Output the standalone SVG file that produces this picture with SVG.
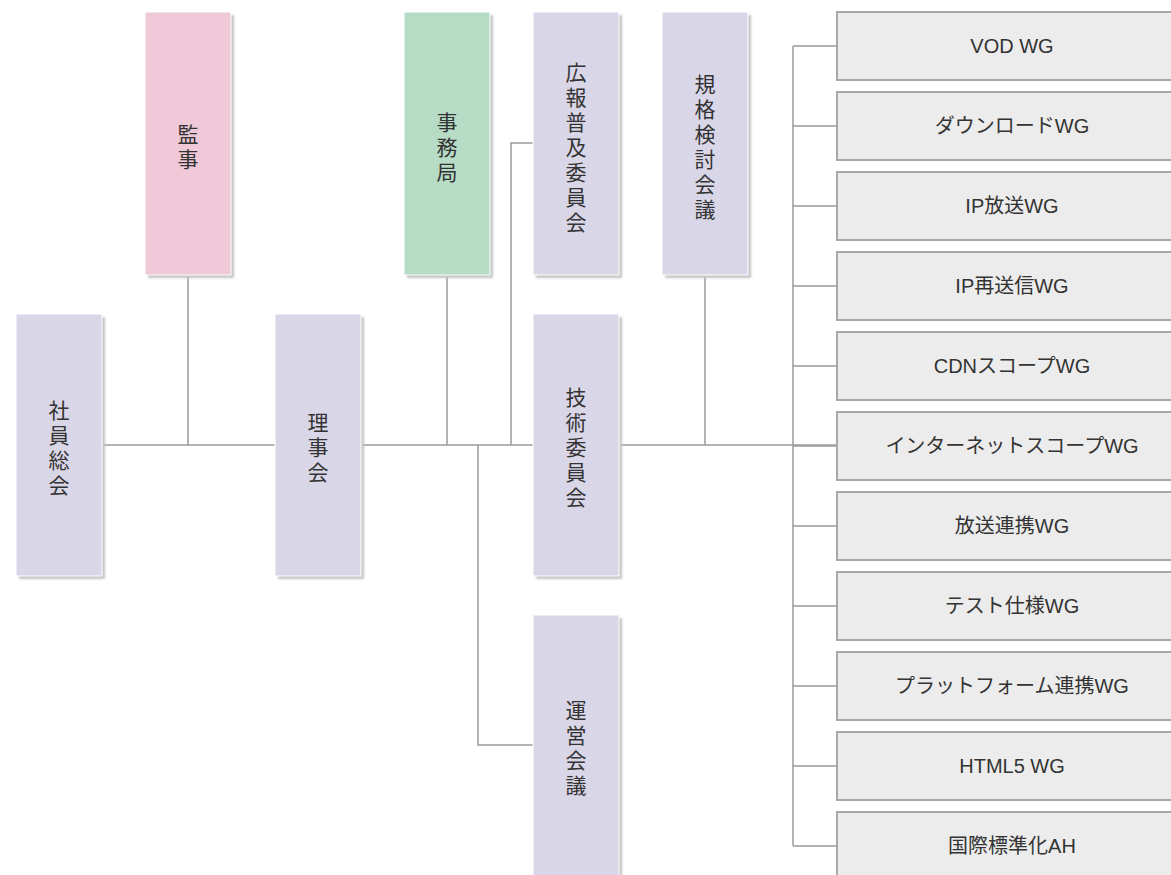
<svg xmlns="http://www.w3.org/2000/svg" width="1171" height="875" viewBox="0 0 1171 875">
<style>
.lv{fill:#d9d6e7;stroke:#fff;stroke-width:1}
.pk{fill:#efc9d7;stroke:#fff;stroke-width:1}
.gr{fill:#b6dcc6;stroke:#fff;stroke-width:1}
.sh{fill:#c4c4c4;filter:url(#bl)}
.wg{fill:#ececec;stroke:#a8a8a8;stroke-width:2}
.vt{font-family:"Noto Sans CJK JP","Liberation Sans",sans-serif;font-size:21px;fill:#333;text-anchor:middle;writing-mode:vertical-rl;letter-spacing:4px}
.ht{font-family:"Liberation Sans","Noto Sans CJK JP",sans-serif;font-size:20px;fill:#333;text-anchor:middle}
.cn{fill:none;stroke:#9a9a9a;stroke-width:1.5}
</style>
<defs>
<filter id="bl" x="-10%" y="-10%" width="120%" height="120%"><feGaussianBlur stdDeviation="1"/></filter>
</defs>
<rect width="1171" height="875" fill="#fff"/>
<g id="connectors" class="cn">
<path d="M102 445H836"/>
<path d="M188 275V445"/>
<path d="M447 275V445"/>
<path d="M533 143H511V445"/>
<path d="M478 445V745H533"/>
<path d="M705 275V445"/>
<path d="M793 46V846"/>
<path d="M793 46H836M793 126H836M793 206H836M793 286H836M793 366H836M793 446H836M793 526H836M793 606H836M793 686H836M793 766H836M793 846H836"/>
</g>
<g id="n-shain">
<rect class="sh" x="19" y="317" width="86" height="262"/>
<rect class="lv" x="16" y="314" width="86" height="262"/>
<text class="vt" x="59" y="450">社員総会</text>
</g>
<g id="n-kanji">
<rect class="sh" x="148" y="15" width="86" height="263"/>
<rect class="pk" x="145" y="12" width="86" height="263"/>
<text class="vt" x="188" y="149">監事</text>
</g>
<g id="n-rijikai">
<rect class="sh" x="278" y="317" width="86" height="262"/>
<rect class="lv" x="275" y="314" width="86" height="262"/>
<text class="vt" x="318" y="449">理事会</text>
</g>
<g id="n-jimukyoku">
<rect class="sh" x="407" y="15" width="86" height="263"/>
<rect class="gr" x="404" y="12" width="86" height="263"/>
<text class="vt" x="447" y="149">事務局</text>
</g>
<g id="n-kouhou">
<rect class="sh" x="536" y="15" width="86" height="263"/>
<rect class="lv" x="533" y="12" width="86" height="263"/>
<text class="vt" x="576" y="149">広報普及委員会</text>
</g>
<g id="n-kikaku">
<rect class="sh" x="665" y="15" width="86" height="263"/>
<rect class="lv" x="662" y="12" width="86" height="263"/>
<text class="vt" x="705" y="149">規格検討会議</text>
</g>
<g id="n-gijutsu">
<rect class="sh" x="536" y="317" width="86" height="262"/>
<rect class="lv" x="533" y="314" width="86" height="262"/>
<text class="vt" x="576" y="449">技術委員会</text>
</g>
<g id="n-unei">
<rect class="sh" x="536" y="618" width="86" height="262"/>
<rect class="lv" x="533" y="615" width="86" height="262"/>
<text class="vt" x="576" y="750">運営会議</text>
</g>
<g id="wg-vod"><rect class="wg" x="837" y="12" width="360" height="68"/><text class="ht" x="1012" y="53">VOD WG</text></g>
<g id="wg-download"><rect class="wg" x="837" y="92" width="360" height="68"/><text class="ht" x="1012" y="133">ダウンロードWG</text></g>
<g id="wg-iphousou"><rect class="wg" x="837" y="172" width="360" height="68"/><text class="ht" x="1012" y="213">IP放送WG</text></g>
<g id="wg-ipsaisoushin"><rect class="wg" x="837" y="252" width="360" height="68"/><text class="ht" x="1012" y="293">IP再送信WG</text></g>
<g id="wg-cdn"><rect class="wg" x="837" y="332" width="360" height="68"/><text class="ht" x="1012" y="373">CDNスコープWG</text></g>
<g id="wg-internet"><rect class="wg" x="837" y="412" width="360" height="68"/><text class="ht" x="1012" y="453">インターネットスコープWG</text></g>
<g id="wg-renkei"><rect class="wg" x="837" y="492" width="360" height="68"/><text class="ht" x="1012" y="533">放送連携WG</text></g>
<g id="wg-test"><rect class="wg" x="837" y="572" width="360" height="68"/><text class="ht" x="1012" y="613">テスト仕様WG</text></g>
<g id="wg-platform"><rect class="wg" x="837" y="652" width="360" height="68"/><text class="ht" x="1012" y="693">プラットフォーム連携WG</text></g>
<g id="wg-html5"><rect class="wg" x="837" y="732" width="360" height="68"/><text class="ht" x="1012" y="773">HTML5 WG</text></g>
<g id="wg-kokusai"><rect class="wg" x="837" y="812" width="360" height="68"/><text class="ht" x="1012" y="853">国際標準化AH</text></g>
</svg>
